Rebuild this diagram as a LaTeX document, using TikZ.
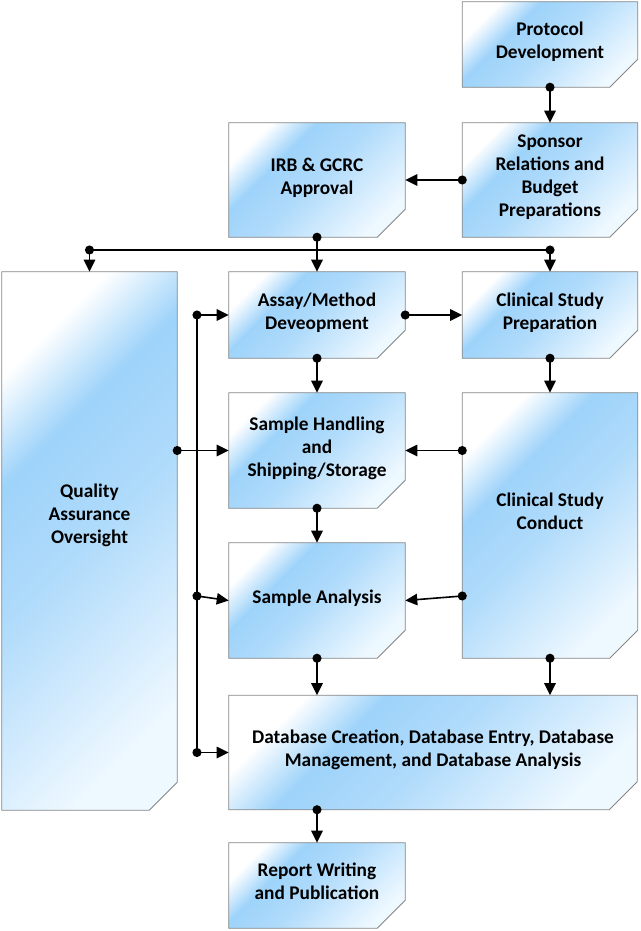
\documentclass[tikz,border=0pt]{standalone}
\usepackage{fontspec}
\setmainfont{Carlito}
\usetikzlibrary{arrows.meta,positioning}

% Box colours and diagonal shading
\definecolor{boxblue}{RGB}{158,211,250}
\definecolor{boxlight}{RGB}{238,248,255}
\definecolor{boxedge}{RGB}{135,135,135}
\pgfdeclarehorizontalshading{boxshade}{100bp}{color(0bp)=(white); color(25bp)=(white); color(36bp)=(boxblue); color(50bp)=(boxblue!82!white); color(75bp)=(boxlight); color(100bp)=(boxlight)}
\pgfdeclarelayer{background}
\pgfsetlayers{background,main}

\begin{document}
\begin{tikzpicture}[x=0.75pt, y=-0.75pt, >={Triangle[length=9pt,width=8.5pt]}, line join=round,
		box/.style={rectangle, inner sep=0pt, align=center, text depth=6pt,
			font=\bfseries\fontsize{14.5}{17.25}\selectfont},
		boxtext/.style={align=center, font=\bfseries\fontsize{14.5}{17.25}\selectfont},
		boxshape/.style={draw=boxedge, line width=0.6pt, shade, shading=boxshade, shading angle=-45},
		link/.style={{Circle[length=6.75pt]}->, line width=1.2pt, shorten <=-3.4pt},
		bus/.style={line width=1.2pt}]
		
		\useasboundingbox (0,0) rectangle (640,931);
		
		% 1. Boxes of the right column
		\node[box, minimum width=131.25pt, minimum height=63.75pt] (protocol) at (550,44.5) {Protocol\\Development};
		\node[box, minimum width=131.25pt, minimum height=85.5pt] (sponsor) at (550,180) {Sponsor\\Relations and\\Budget\\Preparations};
		\node[box, minimum width=131.25pt, minimum height=64.5pt] (prep) at (550,315) {Clinical Study\\Preparation};
		\node[box, minimum width=131.25pt, minimum height=198.75pt] (conduct) at (550,525.5) {};
		\node[boxtext] at (550,511) {Clinical Study\\Conduct};
		
		% 2. Boxes of the middle column
		\node[box, minimum width=132pt, minimum height=85.5pt] (irb) at (317,180) {IRB \& GCRC\\Approval};
		\node[box, minimum width=132pt, minimum height=64.5pt] (assay) at (317,315) {Assay/Method\\Deveopment};
		\node[box, minimum width=132pt, minimum height=86.25pt] (handling) at (317,450.5) {Sample Handling\\and\\Shipping/Storage};
		\node[box, minimum width=132pt, minimum height=86.25pt] (analysis) at (317,600.5) {Sample Analysis};
		\node[box, minimum width=306pt, minimum height=85.5pt] (database) at (433,752.5) {Database Creation, Database Entry, Database\\Management, and Database Analysis};
		\node[box, minimum width=132pt, minimum height=63.75pt] (report) at (317,885.5) {Report Writing\\and Publication};
		
		% 3. Quality assurance box on the left
		\node[box, minimum width=131.25pt, minimum height=403.5pt] (qa) at (89.5,541) {};
		\node[boxtext] at (89.5,515) {Quality\\Assurance\\Oversight};
		
		% 4. Box outlines with the cut corner, behind the text
		\begin{pgfonlayer}{background}
			\foreach \n in {protocol,sponsor,prep,conduct,irb,assay,handling,analysis,database,report,qa}
			\draw[boxshape] (\n.north west) -- (\n.north east) -- ([yshift=21pt]\n.south east)
			-- ([xshift=-21pt]\n.south east) -- (\n.south west) -- cycle;
		\end{pgfonlayer}
		
		% 5. Coordinates of the bus and the feed line
		\coordinate (busL) at (89.5,250);
		\coordinate (busR) at (550,250);
		\coordinate (tapA) at (197,315);
		\coordinate (tapB) at (197,596);
		\coordinate (tapC) at (197,752.5);
		
		% 6. Top of the flow
		\draw[link] (protocol.south) -- (sponsor.north);
		\draw[link] (sponsor.west) -- (irb.east);
		\draw[link] (irb.south) -- (assay.north);
		\draw[bus, {Circle[length=6.75pt]}-{Circle[length=6.75pt]}, shorten <=-3.4pt, shorten >=-3.4pt] (busL) -- (busR);
		\draw[bus, ->] (busL) -- (qa.north);
		\draw[bus, ->] (busR) -- (prep.north);
		
		% 7. Middle of the flow
		\draw[link] (assay.east) -- (prep.west);
		\draw[link] (assay.south) -- (handling.north);
		\draw[link] (prep.south) -- (conduct.north);
		\draw[link] (qa.east |- handling.west) -- (handling.west);
		\draw[link] (conduct.west |- handling.east) -- (handling.east);
		\draw[link] (handling.south) -- (analysis.north);
		\draw[link] (conduct.west |- tapB) -- (analysis.east);
		
		% 8. Feed line on the left of the middle column
		\draw[bus] (tapA) -- (tapC);
		\draw[link] (tapA) -- (assay.west);
		\draw[link] (tapB) -- (analysis.west);
		\draw[link] (tapC) -- (database.west);
		
		% 9. Bottom of the flow
		\draw[link] (analysis.south) -- (analysis.south |- database.north);
		\draw[link] (conduct.south) -- (conduct.south |- database.north);
		\draw[link] (report.north |- database.south) -- (report.north);
		
	\end{tikzpicture}
\end{document}
